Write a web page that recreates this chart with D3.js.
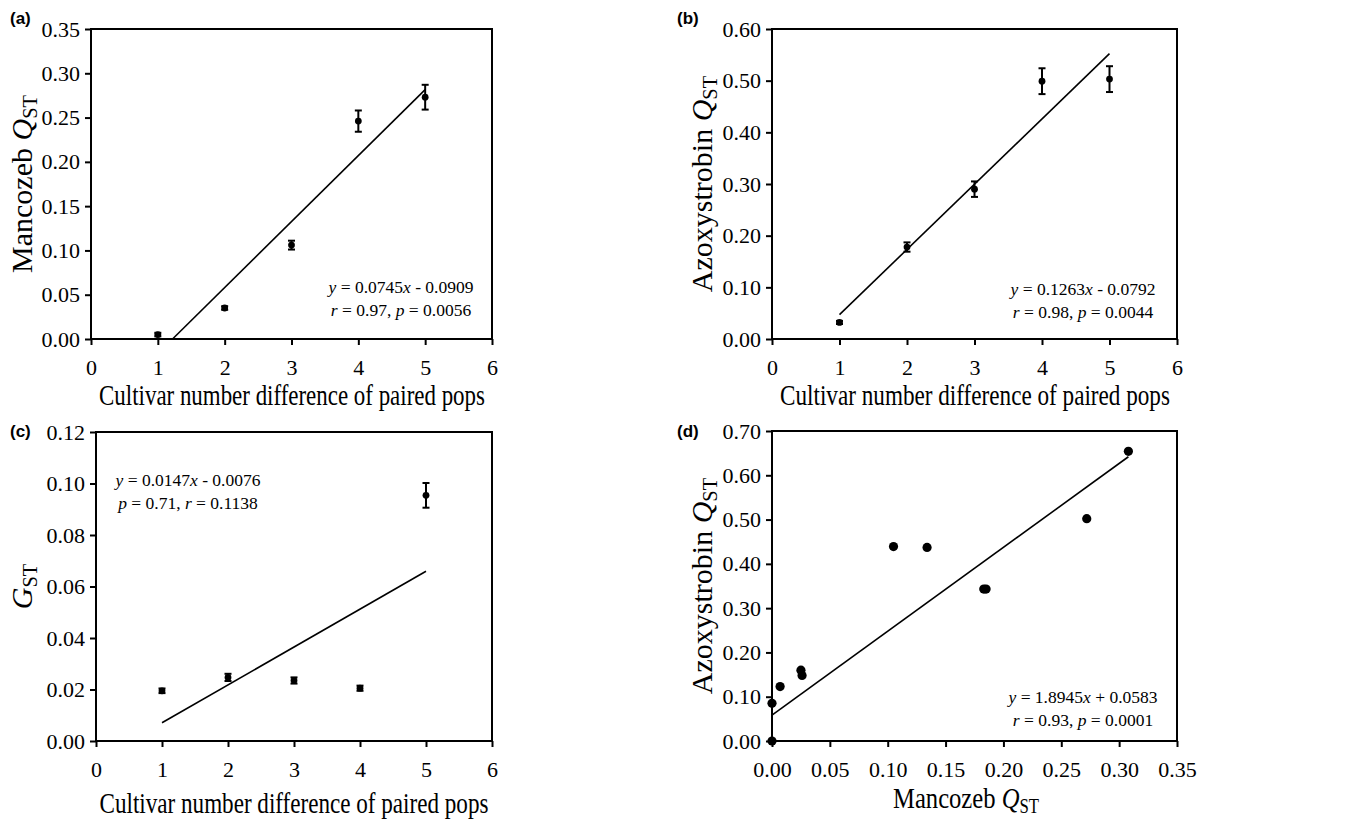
<!DOCTYPE html>
<html>
<head>
<meta charset="utf-8">
<script src="https://cdn.jsdelivr.net/npm/d3@7"></script>
<style>
  body { margin: 0; background: #fff; }
  svg { display: block; }
</style>
</head>
<body>
<div id="chart"></div>
<script>
// data
const cultivarDiff = [1, 2, 3, 4, 5];

const mancozebQst = [0.005, 0.035, 0.106, 0.246, 0.273];
const mancozebErr = [0.002, 0.002, 0.005, 0.012, 0.014];

const azoxyQst = [0.032, 0.178, 0.290, 0.499, 0.503];
const azoxyErr = [0.003, 0.009, 0.015, 0.025, 0.025];

const gstValues = [0.0195, 0.0247, 0.0235, 0.0205, 0.0954];
const gstErr = [0.0009, 0.0014, 0.0012, 0.0010, 0.0048];

// panel d: pairwise Mancozeb vs Azoxystrobin QST
const pairMancozeb = [0, 0, 0.007, 0.025, 0.026, 0.105, 0.134, 0.183, 0.185, 0.272, 0.308];
const pairAzoxy = [0, 0.085, 0.123, 0.160, 0.148, 0.439, 0.437, 0.343, 0.343, 0.502, 0.654];

// fitted lines as printed on the panels
const fitA = {slope: 0.0745, intercept: -0.0909, label1: ["0.0745", "- 0.0909"], label2: ["0.97", "0.0056"]};
const fitB = {slope: 0.1263, intercept: -0.0792, label1: ["0.1263", "- 0.0792"], label2: ["0.98", "0.0044"]};
const fitC = {slope: 0.0147, intercept: -0.0076, label1: ["0.0147", "- 0.0076"], label2: ["0.71", "0.1138"]};
const fitD = {slope: 1.8945, intercept: 0.0583, label1: ["1.8945", "+ 0.0583"], label2: ["0.93", "0.0001"]};

const serif = "Liberation Serif, Times New Roman, serif";

const svg = d3.select("#chart")
  .append("svg")
  .attr("width", 1355)
  .attr("height", 822);

function styleAxis(a) {
  a.select(".domain").remove();
  a.selectAll("line").attr("stroke-width", 2);
  a.selectAll("text")
    .style("font-family", serif)
    .style("font-size", "22px")
    .attr("fill", "#000");
}

function drawPanel(opt) {
  const x = d3.scaleLinear().domain(opt.xDomain).range([opt.left, opt.right]);
  const y = d3.scaleLinear().domain(opt.yDomain).range([opt.bottom, opt.top]);

  const g = svg.append("g");

  // frame
  g.append("rect")
    .attr("x", opt.left).attr("y", opt.top)
    .attr("width", opt.right - opt.left).attr("height", opt.bottom - opt.top)
    .attr("fill", "none").attr("stroke", "#000").attr("stroke-width", 2);

  const xAxis = d3.axisBottom(x)
    .tickValues(opt.xTicks)
    .tickFormat(opt.xFormat)
    .tickSizeInner(6).tickSizeOuter(0).tickPadding(14);

  const yAxis = d3.axisLeft(y)
    .tickValues(opt.yTicks)
    .tickFormat(opt.yFormat)
    .tickSizeInner(6).tickSizeOuter(0).tickPadding(5);

  g.append("g")
    .attr("transform", `translate(0,${opt.bottom})`)
    .call(xAxis)
    .call(styleAxis);

  g.append("g")
    .attr("transform", `translate(${opt.left},0)`)
    .call(yAxis)
    .call(styleAxis);

  // regression line
  const fit = opt.fit;
  g.append("line")
    .attr("x1", x(opt.fitFrom)).attr("y1", y(fit.slope * opt.fitFrom + fit.intercept))
    .attr("x2", x(opt.fitTo)).attr("y2", y(fit.slope * opt.fitTo + fit.intercept))
    .attr("stroke", "#000").attr("stroke-width", 1.6);

  const pts = opt.xs.map((v, i) => ({x: v, y: opt.ys[i], e: opt.errs ? opt.errs[i] : 0}));

  if (opt.errs) {
    const eb = g.selectAll(".eb").data(pts).enter().append("g");
    eb.append("line")
      .attr("x1", d => x(d.x)).attr("x2", d => x(d.x))
      .attr("y1", d => y(d.y - d.e)).attr("y2", d => y(d.y + d.e))
      .attr("stroke", "#000").attr("stroke-width", 2);
    eb.append("line")
      .attr("x1", d => x(d.x) - 3.5).attr("x2", d => x(d.x) + 3.5)
      .attr("y1", d => y(d.y + d.e)).attr("y2", d => y(d.y + d.e))
      .attr("stroke", "#000").attr("stroke-width", 2);
    eb.append("line")
      .attr("x1", d => x(d.x) - 3.5).attr("x2", d => x(d.x) + 3.5)
      .attr("y1", d => y(d.y - d.e)).attr("y2", d => y(d.y - d.e))
      .attr("stroke", "#000").attr("stroke-width", 2);
  }

  g.selectAll(".pt").data(pts).enter().append("circle")
    .attr("cx", d => x(d.x)).attr("cy", d => y(d.y))
    .attr("r", opt.r).attr("fill", "#000");

  // equation text
  const eq = g.append("text")
    .attr("x", opt.eqX).attr("y", opt.eqY)
    .attr("text-anchor", "middle")
    .style("font-family", serif).style("font-size", "17.5px");
  eq.append("tspan").attr("font-style", "italic").text("y");
  eq.append("tspan").text(" = " + fit.label1[0]);
  eq.append("tspan").attr("font-style", "italic").text("x");
  eq.append("tspan").text(" " + fit.label1[1]);

  const eq2 = g.append("text")
    .attr("x", opt.eqX).attr("y", opt.eqY + 23)
    .attr("text-anchor", "middle")
    .style("font-family", serif).style("font-size", "17.5px");
  const first = opt.pFirst ? "p" : "r";
  const second = opt.pFirst ? "r" : "p";
  eq2.append("tspan").attr("font-style", "italic").text(first);
  eq2.append("tspan").text(" = " + fit.label2[0] + ", ");
  eq2.append("tspan").attr("font-style", "italic").text(second);
  eq2.append("tspan").text(" = " + fit.label2[1]);

  // x label, squeezed horizontally to the width it has in the figure
  const xlg = g.append("g");
  const xl = xlg.append("text")
    .attr("x", 0).attr("y", 0)
    .attr("text-anchor", "middle")
    .style("font-family", serif).style("font-size", "30px");
  opt.xLabel(xl);
  const natural = xl.node().getComputedTextLength();
  xlg.attr("transform", `translate(${opt.xLabelX},${opt.xLabelY}) scale(${opt.xLabelWidth / natural},1)`);

  // y label
  const yl = g.append("text")
    .attr("transform", `translate(${opt.yLabelX},${(opt.top + opt.bottom) / 2}) rotate(-90)`)
    .attr("text-anchor", "middle")
    .style("font-family", serif).style("font-size", "30px");
  opt.yLabel(yl);

  // panel letter
  svg.append("text")
    .attr("x", opt.letterX).attr("y", opt.letterY)
    .style("font-family", "Liberation Sans, Arial, sans-serif")
    .style("font-weight", "bold").style("font-size", "17px")
    .text(opt.letter);
}

function qstLabel(name) {
  return t => {
    t.append("tspan").text(name + " ");
    t.append("tspan").attr("font-style", "italic").text("Q");
    t.append("tspan").attr("font-size", "0.68em").attr("dy", "0.25em").text("ST");
  };
}
function plainLabel(s) {
  return t => t.text(s);
}

const cultivarLabel = plainLabel("Cultivar number difference of paired pops");

drawPanel({
  left: 91, right: 492, top: 29, bottom: 339,
  xDomain: [0, 6], yDomain: [0, 0.35],
  xTicks: d3.range(0, 7, 1), yTicks: d3.range(0, 0.351, 0.05),
  xFormat: d3.format("d"), yFormat: d3.format(".2f"),
  xs: cultivarDiff, ys: mancozebQst, errs: mancozebErr, r: 3.4,
  fit: fitA, fitFrom: -fitA.intercept / fitA.slope, fitTo: 5,
  eqX: 401, eqY: 293, pFirst: false,
  xLabel: cultivarLabel, xLabelX: 292, xLabelY: 405, xLabelWidth: 386,
  yLabel: qstLabel("Mancozeb"), yLabelX: 32,
  letter: "(a)", letterX: 10, letterY: 24
});

drawPanel({
  left: 772, right: 1177, top: 29, bottom: 339,
  xDomain: [0, 6], yDomain: [0, 0.6],
  xTicks: d3.range(0, 7, 1), yTicks: d3.range(0, 0.601, 0.1),
  xFormat: d3.format("d"), yFormat: d3.format(".2f"),
  xs: cultivarDiff, ys: azoxyQst, errs: azoxyErr, r: 3.4,
  fit: fitB, fitFrom: 1, fitTo: 5,
  eqX: 1083, eqY: 295, pFirst: false,
  xLabel: cultivarLabel, xLabelX: 975, xLabelY: 405, xLabelWidth: 390,
  yLabel: qstLabel("Azoxystrobin"), yLabelX: 712,
  letter: "(b)", letterX: 677, letterY: 24
});

drawPanel({
  left: 96, right: 492, top: 432, bottom: 741,
  xDomain: [0, 6], yDomain: [0, 0.12],
  xTicks: d3.range(0, 7, 1), yTicks: d3.range(0, 0.121, 0.02),
  xFormat: d3.format("d"), yFormat: d3.format(".2f"),
  xs: cultivarDiff, ys: gstValues, errs: gstErr, r: 3.4,
  fit: fitC, fitFrom: 1, fitTo: 5,
  eqX: 188, eqY: 486, pFirst: true,
  xLabel: cultivarLabel, xLabelX: 294, xLabelY: 813, xLabelWidth: 389,
  yLabel: t => {
    t.append("tspan").attr("font-style", "italic").text("G");
    t.append("tspan").attr("font-size", "0.68em").attr("dy", "0.25em").text("ST");
  },
  yLabelX: 32,
  letter: "(c)", letterX: 10, letterY: 437
});

drawPanel({
  left: 772, right: 1177, top: 431, bottom: 741,
  xDomain: [0, 0.35], yDomain: [0, 0.7],
  xTicks: d3.range(0, 0.351, 0.05), yTicks: d3.range(0, 0.701, 0.1),
  xFormat: d3.format(".2f"), yFormat: d3.format(".2f"),
  xs: pairMancozeb, ys: pairAzoxy, errs: null, r: 4.6,
  fit: fitD, fitFrom: 0, fitTo: d3.max(pairMancozeb),
  eqX: 1083, eqY: 703, pFirst: false,
  xLabel: qstLabel("Mancozeb"), xLabelX: 966, xLabelY: 808, xLabelWidth: 146,
  yLabel: qstLabel("Azoxystrobin"), yLabelX: 712,
  letter: "(d)", letterX: 677, letterY: 437
});
</script>
</body>
</html>
